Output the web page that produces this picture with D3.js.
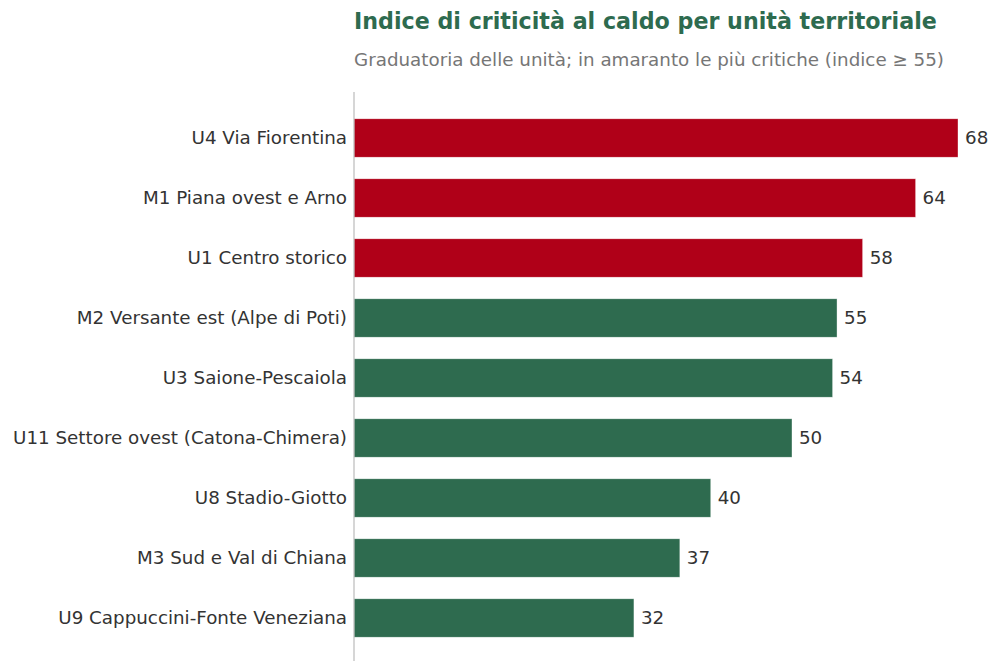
<!DOCTYPE html>
<html>
<head>
<meta charset="utf-8">
<script src="https://cdn.jsdelivr.net/npm/d3@7"></script>
<style>
  html, body { margin: 0; padding: 0; background: #fff; }
  svg { display: block; font-family: "DejaVu Sans", sans-serif; }
</style>
</head>
<body>
<svg id="chart" width="991" height="661"></svg>
<script>
const categories = [
  "U4 Via Fiorentina",
  "M1 Piana ovest e Arno",
  "U1 Centro storico",
  "M2 Versante est (Alpe di Poti)",
  "U3 Saione-Pescaiola",
  "U11 Settore ovest (Catona-Chimera)",
  "U8 Stadio-Giotto",
  "M3 Sud e Val di Chiana",
  "U9 Cappuccini-Fonte Veneziana"
];
const values = [68.4, 63.6, 57.6, 54.7, 54.2, 49.6, 40.4, 36.9, 31.7];
const threshold = 55;
const title = "Indice di criticità al caldo per unità territoriale";
const subtitle = "Graduatoria delle unità; in amaranto le più critiche (indice \u2265 55)";

const svg = d3.select("#chart");
const axisX = 354;
const colorHot = "#b00018";
const colorNormal = "#2e6b4f";
const labelSize = 18.3;

const data = categories.map((c, i) => ({ name: c, value: values[i] }));

const x = d3.scaleLinear().domain([0, 68.4]).range([axisX, 958]);
const y = d3.scaleBand().domain(categories).range([108, 648]).paddingInner(0.36).paddingOuter(0.18);

svg.append("text")
  .attr("x", axisX).attr("y", 29)
  .attr("fill", colorNormal)
  .attr("font-size", 22.2).attr("font-weight", "bold")
  .text(title);

svg.append("text")
  .attr("x", axisX).attr("y", 66)
  .attr("fill", "#767676")
  .attr("font-size", labelSize)
  .text(subtitle);

svg.selectAll("rect.bar").data(data).enter().append("rect")
  .attr("class", "bar")
  .attr("x", x(0))
  .attr("y", d => y(d.name))
  .attr("width", d => x(d.value) - x(0))
  .attr("height", y.bandwidth())
  .attr("fill", d => d.value >= threshold ? colorHot : colorNormal)
  .attr("stroke", "#fff").attr("stroke-opacity", 0.6).attr("stroke-width", 0.6);

svg.selectAll("text.val").data(data).enter().append("text")
  .attr("class", "val")
  .attr("x", d => x(d.value) + 7)
  .attr("y", d => y(d.name) + y.bandwidth() / 2)
  .attr("dy", "0.35em")
  .attr("fill", "#333")
  .attr("font-size", labelSize)
  .text(d => d3.format(".0f")(d.value));

const yAxis = d3.axisLeft(y).tickSize(0).tickPadding(7);
const g = svg.append("g").attr("transform", `translate(${axisX},0)`).call(yAxis);
g.select(".domain").remove();
g.selectAll(".tick text")
  .attr("fill", "#333")
  .attr("font-size", labelSize)
  .attr("font-family", "DejaVu Sans, sans-serif");

svg.append("line")
  .attr("x1", axisX).attr("x2", axisX)
  .attr("y1", 92).attr("y2", 661)
  .attr("stroke", "#bbbbbb").attr("stroke-width", 1.2);
</script>
</body>
</html>
